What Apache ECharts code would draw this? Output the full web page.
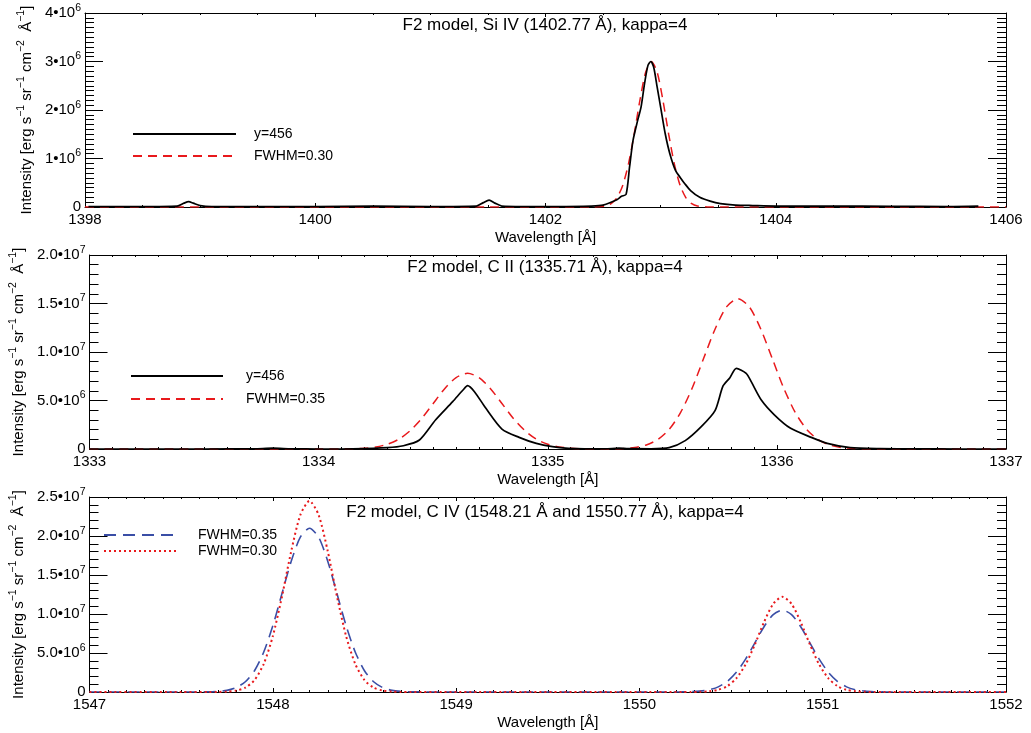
<!DOCTYPE html>
<html><head><meta charset="utf-8">
<script src="https://cdn.jsdelivr.net/npm/echarts@6/dist/echarts.min.js"></script>
<style>html,body{margin:0;padding:0;background:#fff}#c{width:1031px;height:733px}</style>
</head><body><div id="c"></div>
<script>
// ---------- Panel 1: Si IV ----------
const siTitle = 'F2 model, Si IV (1402.77 Å), kappa=4';
const siXTicks = ['1398', '1400', '1402', '1404', '1406'];
const siYTicks = ['0', '1•10^6', '2•10^6', '3•10^6', '4•10^6'];
const siObsWave = [1398.03, 1398.5, 1398.8, 1398.86, 1398.9, 1398.94, 1399.0, 1399.1, 1399.5, 1400.0, 1400.5, 1401.0, 1401.4, 1401.46, 1401.51, 1401.56, 1401.62, 1401.8, 1402.1, 1402.4, 1402.5, 1402.62, 1402.66, 1402.7, 1402.73, 1402.76, 1402.8, 1402.83, 1402.86, 1402.89, 1402.915, 1402.94, 1402.97, 1403.0, 1403.04, 1403.08, 1403.13, 1403.17, 1403.21, 1403.26, 1403.34, 1403.43, 1403.52, 1403.65, 1403.8, 1404.0, 1404.5, 1405.0, 1405.5, 1405.76];
const siObsE6   = [0.01, 0.01, 0.02, 0.08, 0.11, 0.08, 0.03, 0.01, 0.01, 0.01, 0.02, 0.01, 0.02, 0.09, 0.14, 0.08, 0.02, 0.01, 0.01, 0.02, 0.04, 0.15, 0.22, 0.26, 0.82, 1.37, 1.78, 2.06, 2.54, 2.92, 3.0, 2.88, 2.47, 2.06, 1.51, 1.10, 0.75, 0.61, 0.48, 0.34, 0.20, 0.12, 0.07, 0.04, 0.03, 0.02, 0.02, 0.015, 0.01, 0.02];
const siFitWave = [1398.0, 1402.3, 1402.42, 1402.52, 1402.57, 1402.62, 1402.67, 1402.72, 1402.77, 1402.82, 1402.87, 1402.92, 1402.97, 1403.02, 1403.07, 1403.12, 1403.17, 1403.22, 1403.27, 1403.32, 1403.42, 1403.55, 1406.0];
const siFitE6   = [0, 0, 0.0, 0.022, 0.069, 0.19, 0.44, 0.88, 1.50, 2.20, 2.78, 3.0, 2.78, 2.20, 1.50, 0.88, 0.44, 0.19, 0.069, 0.022, 0.0, 0, 0];

// ---------- Panel 2: C II ----------
const ciiTitle = 'F2 model, C II (1335.71 Å), kappa=4';
const ciiXTicks = ['1333', '1334', '1335', '1336', '1337'];
const ciiYTicks = ['0', '5.0•10^6', '1.0•10^7', '1.5•10^7', '2.0•10^7'];
const ciiObsWave = [1333.0, 1333.5, 1333.72, 1333.8, 1333.88, 1334.0, 1334.15, 1334.3, 1334.37, 1334.44, 1334.51, 1334.585, 1334.63, 1334.65, 1334.68, 1334.73, 1334.8, 1334.875, 1334.95, 1335.02, 1335.09, 1335.16, 1335.25, 1335.31, 1335.37, 1335.45, 1335.53, 1335.6, 1335.67, 1335.73, 1335.765, 1335.795, 1335.823, 1335.866, 1335.888, 1335.932, 1335.99, 1336.06, 1336.15, 1336.22, 1336.32, 1336.45, 1336.6, 1336.8, 1337.0];
const ciiObsE6   = [0.0, 0.0, 0.02, 0.08, 0.02, 0.0, 0.02, 0.14, 0.34, 0.93, 2.99, 4.88, 6.08, 6.53, 5.91, 4.19, 2.06, 1.20, 0.58, 0.24, 0.07, 0.02, 0.02, 0.08, 0.03, 0.02, 0.14, 0.86, 2.30, 3.95, 6.5, 7.35, 8.32, 7.8, 6.94, 5.05, 3.5, 2.13, 1.20, 0.58, 0.14, 0.03, 0.01, 0.0, 0.0];
const ciiFitWave = [1333.0, 1334.0, 1334.15, 1334.2, 1334.25, 1334.3, 1334.35, 1334.4, 1334.45, 1334.5, 1334.55, 1334.6, 1334.65, 1334.7, 1334.75, 1334.8, 1334.85, 1334.9, 1334.95, 1335.0, 1335.05, 1335.1, 1335.15, 1335.25, 1335.33, 1335.38, 1335.43, 1335.48, 1335.53, 1335.58, 1335.63, 1335.68, 1335.73, 1335.78, 1335.83, 1335.88, 1335.93, 1335.98, 1336.03, 1336.08, 1336.13, 1336.18, 1336.23, 1336.28, 1336.33, 1336.45, 1337.0];
const ciiFitE6   = [0, 0, 0.03, 0.08, 0.21, 0.49, 1.01, 1.90, 3.15, 4.69, 6.22, 7.37, 7.8, 7.37, 6.22, 4.69, 3.15, 1.90, 1.01, 0.49, 0.21, 0.08, 0.03, 0, 0.05, 0.16, 0.42, 0.97, 2.02, 3.77, 6.26, 9.32, 12.35, 14.65, 15.5, 14.65, 12.35, 9.32, 6.26, 3.77, 2.02, 0.97, 0.42, 0.16, 0.05, 0, 0];

// ---------- Panel 3: C IV ----------
const civTitle = 'F2 model, C IV (1548.21 Å and 1550.77 Å), kappa=4';
const civXTicks = ['1547', '1548', '1549', '1550', '1551', '1552'];
const civYTicks = ['0', '5.0•10^6', '1.0•10^7', '1.5•10^7', '2.0•10^7', '2.5•10^7'];
const civWave = [1547.0, 1547.5, 1547.65, 1547.7, 1547.75, 1547.8, 1547.85, 1547.9, 1547.95, 1548.0, 1548.05, 1548.1, 1548.15, 1548.2, 1548.25, 1548.3, 1548.35, 1548.4, 1548.45, 1548.5, 1548.55, 1548.6, 1548.65, 1548.7, 1548.75, 1549.0, 1550.0, 1550.23, 1550.28, 1550.33, 1550.38, 1550.43, 1550.48, 1550.53, 1550.58, 1550.63, 1550.68, 1550.73, 1550.78, 1550.83, 1550.88, 1550.93, 1550.98, 1551.03, 1551.08, 1551.13, 1551.18, 1551.23, 1551.28, 1551.33, 1551.5, 1552.0];
const civF35E6 = [0, 0, 0.02, 0.07, 0.21, 0.56, 1.31, 2.73, 5.10, 8.48, 12.62, 16.74, 19.85, 21.0, 19.85, 16.74, 12.62, 8.48, 5.10, 2.73, 1.31, 0.56, 0.21, 0.07, 0.02, 0, 0, 0.01, 0.04, 0.11, 0.28, 0.66, 1.37, 2.55, 4.24, 6.31, 8.37, 9.92, 10.5, 9.92, 8.37, 6.31, 4.24, 2.55, 1.37, 0.66, 0.28, 0.11, 0.04, 0.01, 0, 0];
const civF30E6 = [0, 0, 0, 0.01, 0.05, 0.18, 0.56, 1.53, 3.58, 7.15, 12.25, 18.01, 22.69, 24.5, 22.69, 18.01, 12.25, 7.15, 3.58, 1.53, 0.56, 0.18, 0.05, 0.01, 0, 0, 0, 0, 0.01, 0.02, 0.09, 0.28, 0.76, 1.78, 3.56, 6.10, 8.97, 11.30, 12.2, 11.30, 8.97, 6.10, 3.56, 1.78, 0.76, 0.28, 0.09, 0.02, 0.01, 0, 0, 0];

const legendLabels = {
  si_obs: 'y=456', si_fit: 'FWHM=0.30',
  cii_obs: 'y=456', cii_fit: 'FWHM=0.35',
  civ_35: 'FWHM=0.35', civ_30: 'FWHM=0.30'
};
const yName = 'Intensity [erg s^−1 sr^−1 cm^−2  Å^−1]';
const xName = 'Wavelength [Å]';

// ---------- build ----------
const FONT = '"Liberation Sans", Arial, Helvetica, sans-serif';
const zip = (xs, ys) => xs.map((x, i) => [x, ys[i] * 1e6]);

function richify(s, base, sup) {
  const parts = s.split(/(\^[^ \]]+)/);
  return parts.filter(p => p.length).map(p => p[0] === '^' ? '{' + sup + '|' + p.slice(1) + '}' : '{' + base + '|' + p + '}').join('');
}

const richLabel = {
  b: {fontSize: 15, fontFamily: FONT, color: '#000', lineHeight: 21},
  s: {fontSize: 10.5, fontFamily: FONT, color: '#000', lineHeight: 12, verticalAlign: 'top'}
};
const richName = {
  n: {fontSize: 15, fontFamily: FONT, color: '#000', lineHeight: 21},
  s: {fontSize: 10.5, fontFamily: FONT, color: '#000', lineHeight: 12, verticalAlign: 'top'}
};

const grids = [
  {left: 85, right: 25, top: 13, height: 194},
  {left: 85, right: 25, top: 255, height: 194},
  {left: 85, right: 25, top: 497, height: 195}
];

function xAx(gi, min, max, interval, minorSplit, labels, bottom) {
  return {
    type: 'value', gridIndex: gi, min: min, max: max, interval: interval,
    position: bottom ? 'bottom' : 'top',
    axisLine: {show: true, onZero: false, lineStyle: {color: '#000', width: 1}},
    axisTick: {show: true, inside: true, length: 4, lineStyle: {color: '#000', width: 1}},
    minorTick: {show: true, splitNumber: minorSplit, length: 2, lineStyle: {color: '#000', width: 1}},
    splitLine: {show: false}, minorSplitLine: {show: false},
    axisLabel: bottom ? {
      show: true, margin: 5, fontSize: 15, fontFamily: FONT, color: '#000',
      formatter: v => labels[Math.round((v - min) / interval)] || ''
    } : {show: false},
    name: bottom ? xName : '', nameLocation: 'middle', nameGap: 23,
    nameTextStyle: {fontSize: 15, fontFamily: FONT, color: '#000', verticalAlign: 'top'}
  };
}

function yAx(gi, min, max, interval, minorSplit, labels, left) {
  return {
    type: 'value', gridIndex: gi, min: min, max: max, interval: interval,
    position: left ? 'left' : 'right',
    axisLine: {show: true, onZero: false, lineStyle: {color: '#000', width: 1}},
    axisTick: {show: true, inside: true, length: 18, lineStyle: {color: '#000', width: 1}},
    minorTick: {show: true, splitNumber: minorSplit, length: 9, lineStyle: {color: '#000', width: 1}},
    splitLine: {show: false}, minorSplitLine: {show: false},
    axisLabel: left ? {
      show: true, margin: 4, rich: richLabel,
      formatter: v => richify(labels[Math.round((v - min) / interval)] || '', 'b', 's')
    } : {show: false},
    name: left ? richify(yName, 'n', 's') : '', nameLocation: 'middle', nameRotate: 90, nameGap: 43,
    nameTextStyle: {rich: richName}
  };
}

const RED = '#e8191c';
const BLUE = '#3a4ea6';
const BLACK = '#000';

function line(name, xi, data, color, width, type) {
  return {
    type: 'line', name: name, xAxisIndex: xi, yAxisIndex: xi, data: data,
    symbol: 'none', showSymbol: false, smooth: 0.25, silent: true,
    lineStyle: {color: color, width: width, type: type},
    itemStyle: {color: color}
  };
}

function legendFor(left, top, width, gap, pad, names) {
  return {
    left: left, top: top, orient: 'vertical', itemWidth: width, itemHeight: 14, itemGap: gap,
    padding: 0, selectedMode: false, data: names,
    formatter: n => legendLabels[n],
    itemStyle: {color: 'rgba(0,0,0,0)', borderWidth: 0},
    textStyle: {fontSize: 14, fontFamily: FONT, color: '#000', padding: [0, 0, 0, pad]}
  };
}

function titleFor(text, top) {
  return {text: text, left: 545, top: top, textAlign: 'center', padding: 0,
    textStyle: {fontSize: 17, fontWeight: 'normal', fontFamily: FONT, color: '#000'}};
}

const option = {
  animation: false,
  backgroundColor: '#fff',
  title: [titleFor(siTitle, 17), titleFor(ciiTitle, 259), titleFor(civTitle, 504)],
  grid: grids,
  xAxis: [
    xAx(0, 1398, 1406, 2, 4, siXTicks, true),
    xAx(1, 1333, 1337, 1, 10, ciiXTicks, true),
    xAx(2, 1547, 1552, 1, 10, civXTicks, true),
    xAx(0, 1398, 1406, 2, 4, siXTicks, false),
    xAx(1, 1333, 1337, 1, 10, ciiXTicks, false),
    xAx(2, 1547, 1552, 1, 10, civXTicks, false)
  ],
  yAxis: [
    yAx(0, 0, 4e6, 1e6, 10, siYTicks, true),
    yAx(1, 0, 2e7, 5e6, 5, ciiYTicks, true),
    yAx(2, 0, 2.5e7, 5e6, 5, civYTicks, true),
    yAx(0, 0, 4e6, 1e6, 10, siYTicks, false),
    yAx(1, 0, 2e7, 5e6, 5, ciiYTicks, false),
    yAx(2, 0, 2.5e7, 5e6, 5, civYTicks, false)
  ],
  legend: [
    legendFor(132, 127, 103, 8, 13, ['si_obs', 'si_fit']),
    legendFor(130, 369, 92, 9, 18, ['cii_obs', 'cii_fit']),
    legendFor(103, 528, 75, 2, 14, ['civ_35', 'civ_30'])
  ],
  series: [
    line('si_fit', 0, zip(siFitWave, siFitE6), RED, 1.5, [9, 6]),
    line('si_obs', 0, zip(siObsWave, siObsE6), BLACK, 1.7, 'solid'),
    line('cii_fit', 1, zip(ciiFitWave, ciiFitE6), RED, 1.5, [9, 6]),
    line('cii_obs', 1, zip(ciiObsWave, ciiObsE6), BLACK, 1.7, 'solid'),
    line('civ_35', 2, zip(civWave, civF35E6), BLUE, 1.6, [12, 7]),
    line('civ_30', 2, zip(civWave, civF30E6), RED, 2, [2, 3])
  ]
};

const chart = echarts.init(document.getElementById('c'), null, {renderer: 'canvas'});
chart.setOption(option);
</script>
</body></html>
